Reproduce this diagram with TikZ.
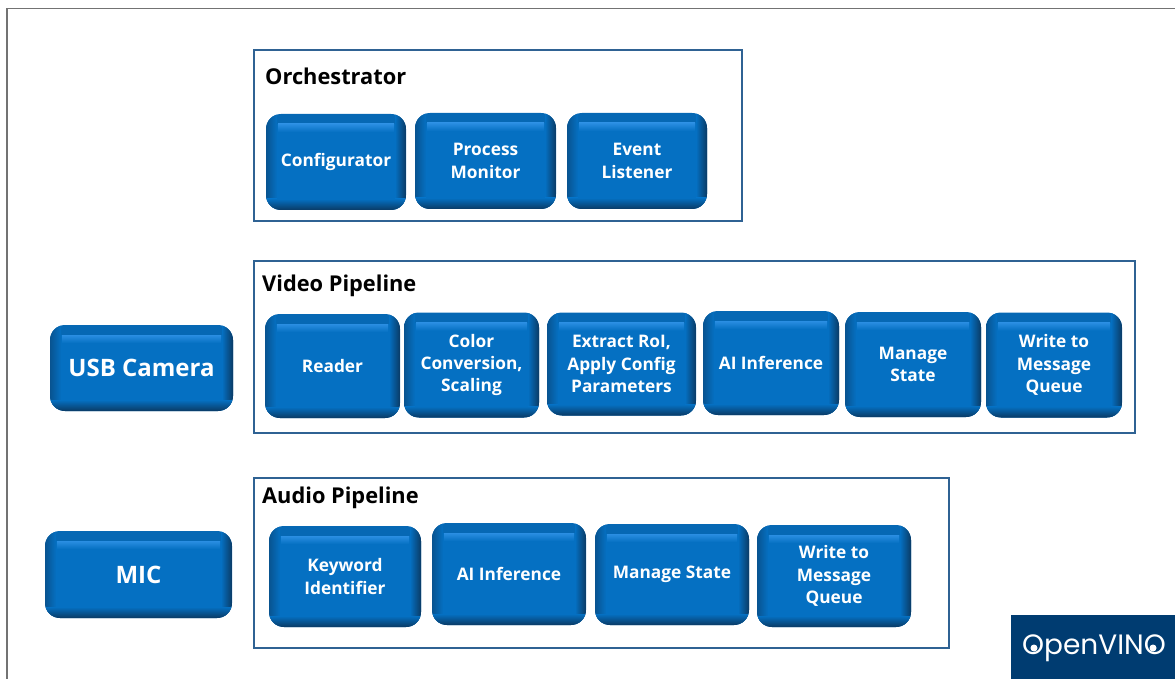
\documentclass[tikz,border=0pt]{standalone}
\usepackage{fontspec}
\setmainfont{Open Sans}
\newfontfamily\logofont{Poppins}
\usepackage{tikz}
\usetikzlibrary{calc}
\definecolor{bluebase}{HTML}{0668B4}
\definecolor{blueface}{HTML}{0570C2}
\definecolor{bluelight}{HTML}{2A8EE2}
\definecolor{bluedark}{HTML}{0A3A64}
\definecolor{frameblue}{HTML}{2F6293}
\definecolor{logoblue}{HTML}{003C71}
\begin{document}
\begin{tikzpicture}[x=1pt,y=-1pt]
            \tikzstyle{block}=[rectangle,rounded corners=15pt,fill=bluebase,text=white,align=center,inner sep=0pt,font=\fontsize{17.3}{22.3}\selectfont\bfseries,
                path picture={
                    \begin{scope}[sharp corners]
                    \coordinate (nw) at (path picture bounding box.north west);
                    \coordinate (se) at (path picture bounding box.south east);
                    \shade[left color=bluedark!45!bluebase,right color=blueface] (nw) rectangle ($(nw|-se)+(11pt,0pt)$);
                    \shade[left color=blueface,right color=bluedark] ($(se|-nw)+(-11pt,0pt)$) rectangle (se);
                    \shade[top color=blueface,bottom color=bluedark] ($(nw|-se)+(0pt,11pt)$) rectangle (se);
                    \fill[blueface] ($(nw)+(11pt,-10pt)$) rectangle ($(se)+(-11pt,11pt)$);
                    \shade[top color=bluelight,bottom color=blueface] ($(nw)+(12pt,-10pt)$) rectangle ($(se|-nw)+(-12pt,-18pt)$);
                    \end{scope}
                }]
            \tikzstyle{frame}=[rectangle,draw=frameblue,line width=1.8pt,inner sep=0pt]
            \tikzstyle{title}=[anchor=west,inner sep=0pt,font=\fontsize{21.8}{25}\selectfont\bfseries]
            \tikzstyle{pupil}=[circle,fill=white,inner sep=0pt,minimum size=7pt]
            \useasboundingbox (0,0) rectangle (1175,679);
            \draw[gray!90!black,line width=1.5pt] (7,679) -- (7,8.5) -- (1175,8.5);
            % orchestrator
            \node[frame,minimum width=488pt,minimum height=171pt](orchframe) at (498,135.5){};
            \node[title](orchtitle) at (265,76){Orchestrator};
            \node[block,minimum width=140pt,minimum height=96pt](configurator) at (336,162){\raisebox{-1.5pt}{Configurator}};
            \node[block,minimum width=141pt,minimum height=96pt](monitor) at (485.5,161){Process\\Monitor};
            \node[block,minimum width=140pt,minimum height=96pt](listener) at (637,161){Event\\Listener};
            % video
            \node[frame,minimum width=881pt,minimum height=172pt](videoframe) at (694.5,347){};
            \node[title](videotitle) at (262,285.5){Video Pipeline};
            \node[block,minimum width=183pt,minimum height=86pt,font=\fontsize{24}{26}\selectfont\bfseries](camera) at (141.5,368){USB Camera};
            \node[block,minimum width=135pt,minimum height=104pt](reader) at (332.5,366){Reader};
            \node[block,minimum width=135pt,minimum height=105pt](color) at (471.5,365){Color\\Conversion,\\Scaling};
            \node[block,minimum width=149pt,minimum height=103pt](extract) at (621.5,364){Extract RoI,\\Apply Config\\Parameters};
            \node[block,minimum width=136pt,minimum height=104pt](videoai) at (771,363){AI Inference};
            \node[block,minimum width=136pt,minimum height=105pt](videostate) at (913,364.5){Manage\\State};
            \node[block,minimum width=136pt,minimum height=105pt](videowrite) at (1054,365){Write to\\Message\\Queue};
            % audio
            \node[frame,minimum width=695pt,minimum height=170pt](audioframe) at (601.5,563){};
            \node[title](audiotitle) at (262,497.5){Audio Pipeline};
            \node[block,minimum width=187pt,minimum height=87pt,font=\fontsize{24}{26}\selectfont\bfseries](mic) at (138.5,574.5){MIC};
            \node[block,minimum width=152pt,minimum height=101pt](keyword) at (345,576.5){Keyword\\Identifier};
            \node[block,minimum width=154pt,minimum height=102pt](audioai) at (509,574){AI Inference};
            \node[block,minimum width=154pt,minimum height=101pt](audiostate) at (672,574.5){Manage State};
            \node[block,minimum width=154pt,minimum height=102pt](audiowrite) at (834,576){Write to\\Message\\Queue};
            % logo
            \node[rectangle,fill=logoblue,minimum width=164pt,minimum height=64pt,inner sep=0pt](logo) at (1093,647){};
            \node[text=white,inner sep=0pt,font=\fontsize{28}{28}\logofont](logotext) at (1094,648){OpenVINO};
            \node[pupil](lefteye) at (1034,648){};
            \node[pupil](righteye) at (1153,648){};
\end{tikzpicture}
\end{document}
